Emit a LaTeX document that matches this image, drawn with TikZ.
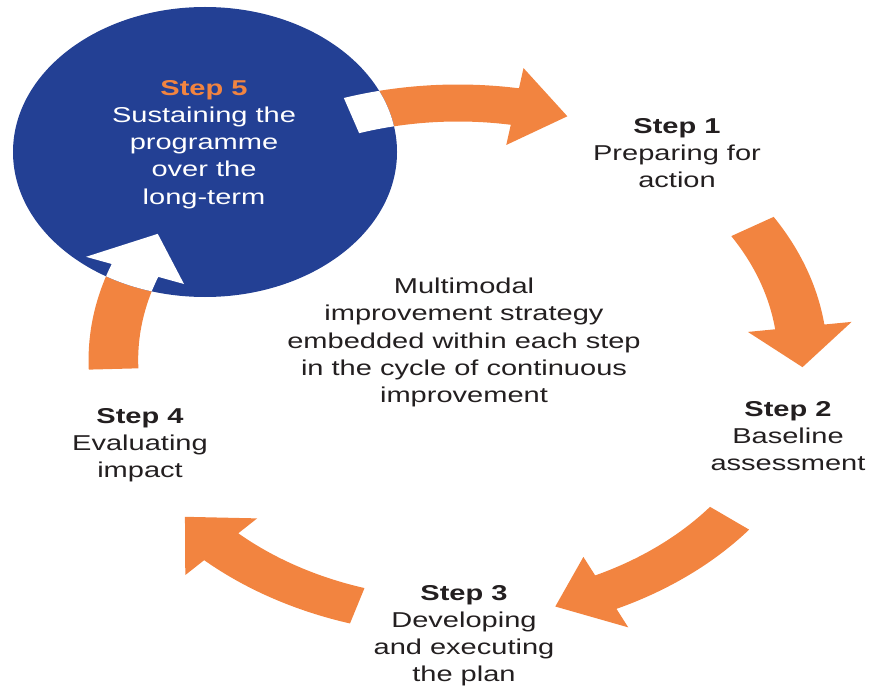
\documentclass[tikz,border=0pt]{standalone}
\usepackage{fontspec}
\setmainfont{Liberation Sans}[FakeStretch=1.35]
\usepackage{tikz}
\usetikzlibrary{calc}
\usetikzlibrary{positioning}
\usetikzlibrary{shapes.geometric}
\definecolor{stepOrange}{RGB}{242,132,64}
\definecolor{stepBlue}{RGB}{35,64,148}
\definecolor{stepInk}{RGB}{35,31,32}
\tikzstyle{steptext} = [align=center, inner sep=0pt, anchor=north, text=stepInk, font=\fontsize{21.5}{27.2}\selectfont]
\tikzstyle{stepcircle} = [draw=none, ellipse, fill=stepBlue, minimum width=384pt, minimum height=290pt, inner sep=0pt]
\tikzstyle{arrowfill} = [fill=stepOrange]
% radii of the cycle band
\newcommand{\rmid}{257}
\newcommand{\rin}{238.5}
\newcommand{\rout}{275.5}
\newcommand{\rbarbin}{218}
\newcommand{\rbarbout}{296}
\newcommand{\cyclearc}[3][arrowfill]{%
  \pgfmathsetmacro{\neckangle}{#3+9}
  \fill[#1] (#2:\rout) arc[start angle=#2, end angle=\neckangle, radius=\rout]
    -- (\neckangle:\rbarbout) -- (#3:\rmid) -- (\neckangle:\rbarbin)
    -- (\neckangle:\rin) arc[start angle=\neckangle, end angle=#2, radius=\rin] -- cycle;
}

\begin{document}
\begin{tikzpicture}[x=1pt, y=-1pt]
\useasboundingbox (0,0) rectangle (870,687);
% cycle arrows
\begin{scope}[shift={(458,360)}, x=1.341pt, y=1pt]
  \cyclearc{108}{71.5}
  \cyclearc{31.3}{-1.6}
  \cyclearc{-38}{-73.6}
  \cyclearc{-107}{-142.4}
  \cyclearc{182}{150.6}
\end{scope}
\node[stepcircle] (step5) at (205,152) {};
\begin{scope}
  \clip (205,152) ellipse [x radius=192pt, y radius=145pt];
  \begin{scope}[shift={(458,360)}, x=1.341pt, y=1pt]
    \cyclearc[fill=white]{108}{71.5}
    \cyclearc[fill=white]{182}{150.6}
  \end{scope}
\end{scope}
% labels
\node[steptext, text=white] (step5label) at (204,80) {\textcolor{stepOrange}{\bfseries Step 5}\\Sustaining the\\programme\\over the\\long-term};
\node[steptext] (step1) at (677,118) {\bfseries Step 1\\Preparing for\\action};
\node[steptext] (step2) at (788,401) {\bfseries Step 2\\Baseline\\assessment};
\node[steptext] (step3) at (464,585) {\bfseries Step 3\\Developing\\and executing\\the plan};
\node[steptext] (step4) at (140,408) {\bfseries Step 4\\Evaluating\\impact};
\node[steptext] (core) at (464,278) {Multimodal\\improvement strategy\\embedded within each step\\in the cycle of continuous\\improvement};
\end{tikzpicture}
\end{document}
